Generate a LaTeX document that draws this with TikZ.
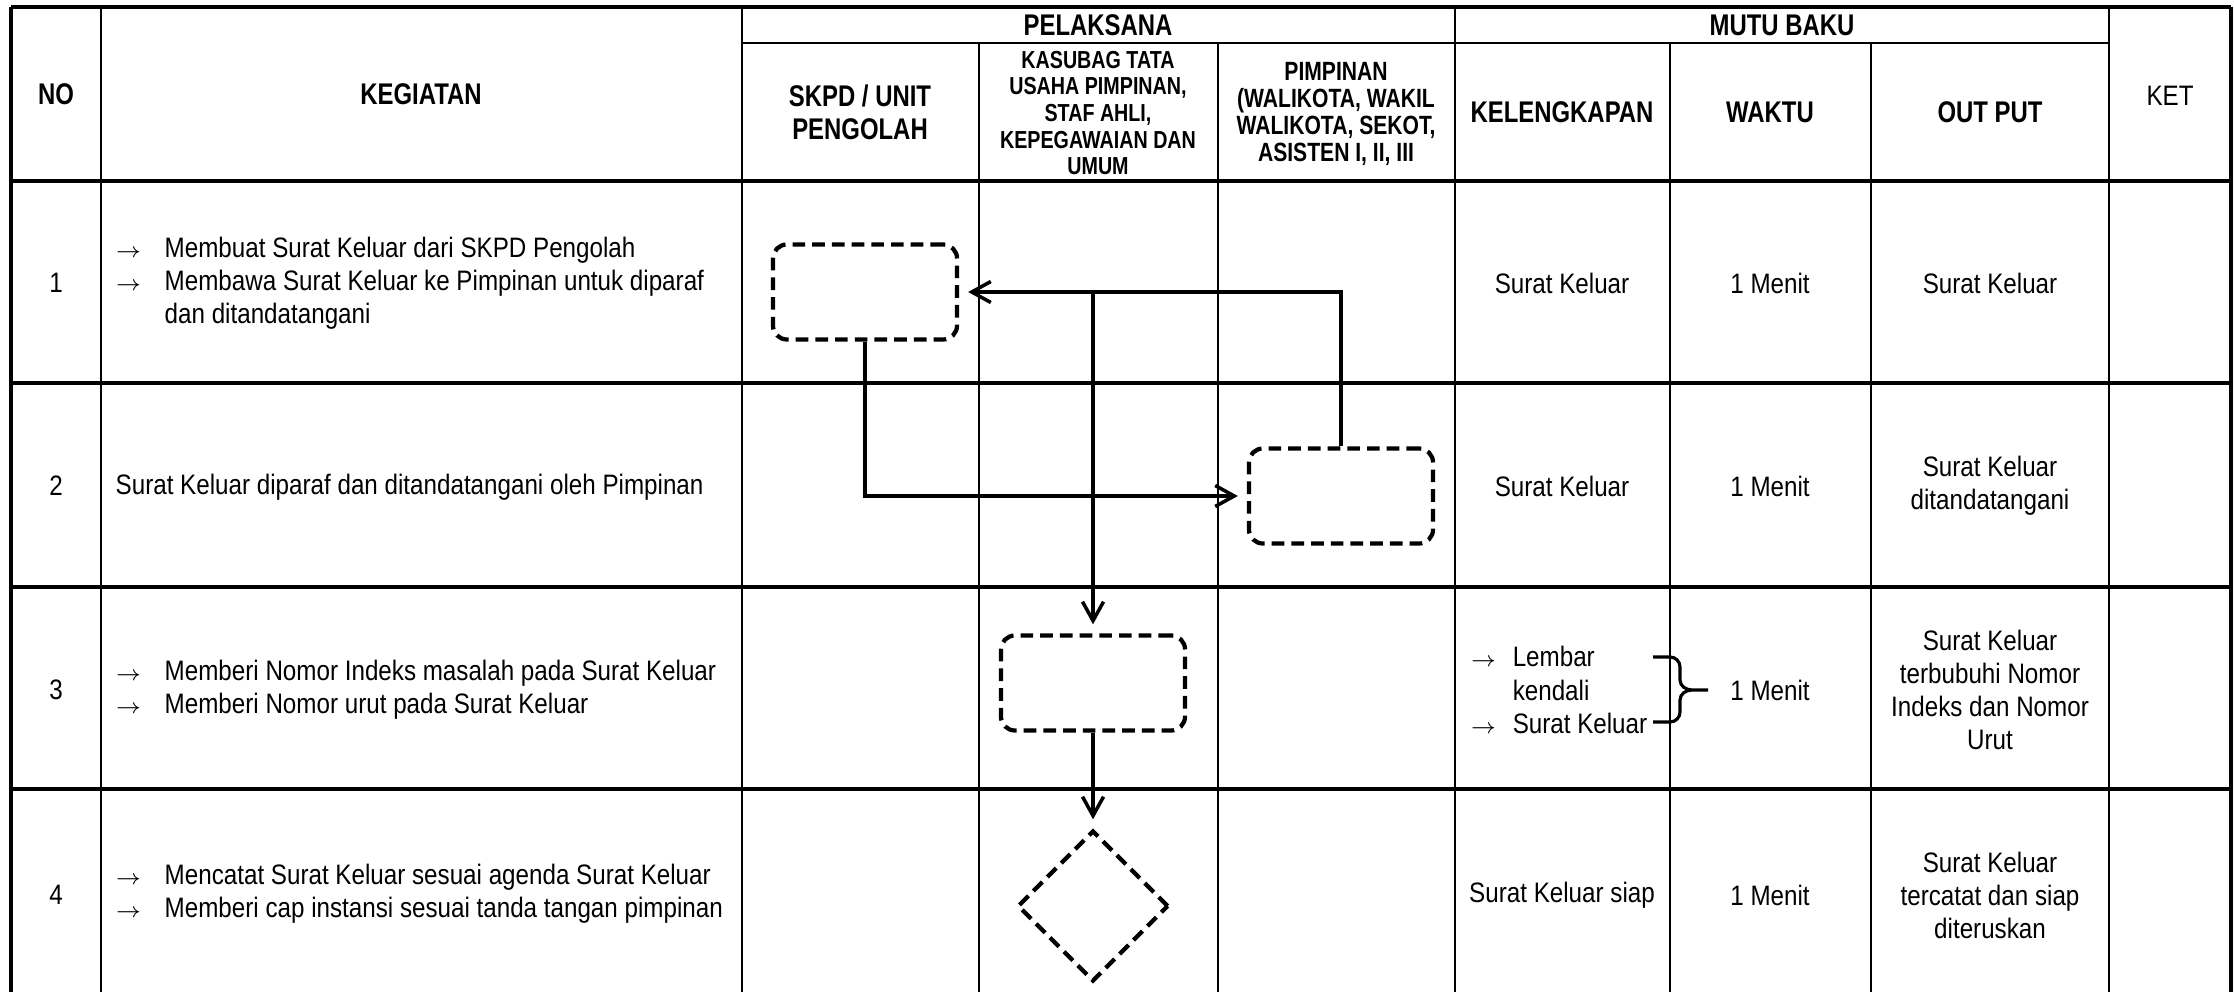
\documentclass[tikz,border=0pt]{standalone}
\usepackage{fontspec}
\setmainfont{Liberation Sans}[FakeStretch=0.86]
\newfontfamily\hurufjudul{Liberation Sans}[FakeStretch=0.8]
\usetikzlibrary{arrows.meta,shapes.geometric}

\newcommand{\isi}{\fontsize{8}{9.4}\selectfont}
\newcommand{\judul}{\hurufjudul\bfseries\fontsize{8.5}{9.4}\selectfont}
\newcommand{\judulkecil}{\hurufjudul\bfseries\fontsize{7}{7.6}\selectfont}
\newcommand{\judulsedang}{\hurufjudul\bfseries\fontsize{7.5}{7.6}\selectfont}
\newcommand{\panah}[1][0.49cm]{\makebox[#1][l]{\fontsize{6.5}{6.5}\selectfont$\rightarrow$}}

\begin{document}
\begin{tikzpicture}[x=0.01cm,y=-0.01cm,>={Straight Barb[length=0.19cm,width=0.21cm]},
	tebal/.style={line width=1.1pt},
	tipis/.style={line width=0.6pt},
	kotak/.style={draw,rectangle,rounded corners=0.14cm,line width=1.2pt,
		dash pattern=on 3.6pt off 2pt,minimum width=1.84cm,minimum height=0.95cm},
	belah/.style={draw,diamond,line width=1.2pt,dash pattern=on 3.6pt off 2pt,
		minimum size=1.51cm,inner sep=0pt},
	alur/.style={->,line width=1pt,shorten >=0.09cm},
	kepala/.style={font=\judul,align=center,inner sep=0pt},
	isian/.style={font=\isi,align=center,inner sep=0pt},
	kegiatan/.style={font=\isi,align=left,anchor=west,inner sep=0pt}]
	\useasboundingbox (0,0) rectangle (2234,992);

	% tabel
	\draw[tebal] (11,7) -- (2231,7);
	\foreach \y in {181,383,587,789}
		\draw[tebal] (11,\y) -- (2231,\y);
	\draw[tipis] (742,43) -- (2109,43);
	\foreach \x in {11,2231}
		\draw[tebal] (\x,7) -- (\x,992);
	\foreach \x in {101,742,1455,2109}
		\draw[tipis] (\x,7) -- (\x,992);
	\foreach \x in {979,1218,1670,1871}
		\draw[tipis] (\x,43) -- (\x,992);

	% kepala tabel
	\node[kepala] (no) at (56,94) {NO};
	\node[kepala] (kegiatan) at (421,94) {KEGIATAN};
	\node[kepala] (pelaksana) at (1098,25) {PELAKSANA};
	\node[kepala] (mutubaku) at (1782,25) {MUTU BAKU};
	\node[kepala] (skpd) at (860,112) {SKPD / UNIT\\PENGOLAH};
	\node[kepala,font=\judulkecil] (kasubag) at (1098,113)
		{KASUBAG TATA\\USAHA PIMPINAN,\\STAF AHLI,\\KEPEGAWAIAN DAN\\UMUM};
	\node[kepala,font=\judulsedang] (pimpinan) at (1336,114)
		{PIMPINAN\\(WALIKOTA, WAKIL\\WALIKOTA, SEKOT,\\ASISTEN I, II, III};
	\node[kepala] (kelengkapan) at (1562,112) {KELENGKAPAN};
	\node[kepala] (waktu) at (1770,112) {WAKTU};
	\node[kepala] (output) at (1990,112) {OUT PUT};
	\node[isian] (ket) at (2170,96) {KET};

	% isi
	\foreach \n/\y/\out in {1/283/{Surat Keluar},
			2/486/{Surat Keluar\\ditandatangani},
			3/690/{Surat Keluar\\terbubuhi Nomor\\Indeks dan Nomor\\Urut},
			4/895/{Surat Keluar\\tercatat dan siap\\diteruskan}}
		{
		\node[isian] (no\n) at (56,\y) {\n};
		\node[isian] (waktu\n) at (1770,\y) {1 Menit};
		\node[isian] (out\n) at (1990,\y) {\out};
	};
	\foreach \n/\y/\kel in {1/283/{Surat Keluar},2/486/{Surat Keluar},4/895/{Surat Keluar siap}}
		\node[isian] (kel\n) at (1562,\y) {\kel};
	\node[kegiatan] (kel3) at (1470,690)
		{\panah[0.42cm]Lembar\\\hspace*{0.42cm}kendali\\\panah[0.42cm]Surat Keluar};
	\draw[line width=0.9pt] (1653,657) -- (1670,657) to[out=0,in=90] (1680,667)
		-- (1680,680) to[out=-90,in=180] (1692,690) -- (1708,690)
		(1692,690) to[out=180,in=90] (1680,700) -- (1680,712)
		to[out=-90,in=0] (1670,722) -- (1653,722);

	\node[kegiatan] (keg1) at (115,283) {\panah Membuat Surat Keluar dari SKPD Pengolah\\
		\panah Membawa Surat Keluar ke Pimpinan untuk diparaf\\\hspace*{0.49cm}dan ditandatangani};
	\node[kegiatan] (keg2) at (115,487) {Surat Keluar diparaf dan ditandatangani oleh Pimpinan};
	\node[kegiatan] (keg3) at (115,690) {\panah Memberi Nomor Indeks masalah pada Surat Keluar\\
		\panah Memberi Nomor urut pada Surat Keluar};
	\node[kegiatan] (keg4) at (115,894) {\panah Mencatat Surat Keluar sesuai agenda Surat Keluar\\
		\panah Memberi cap instansi sesuai tanda tangan pimpinan};

	% alur
	\node[kotak] (b1) at (865,292) {};
	\node[kotak] (b2) at (1341,496) {};
	\node[kotak] (b3) at (1093,683) {};
	\node[belah] (d4) at (1093,906) {};
	\draw[alur] (b1.south) |- (b2.west);
	\draw[alur] (b2.north) |- (b1.east);
	\coordinate (cabang) at (b3.north |- b1.east);
	\draw[alur] (cabang) -- (b3.north);
	\draw[alur] (b3.south) -- (d4.north);
\end{tikzpicture}
\end{document}
